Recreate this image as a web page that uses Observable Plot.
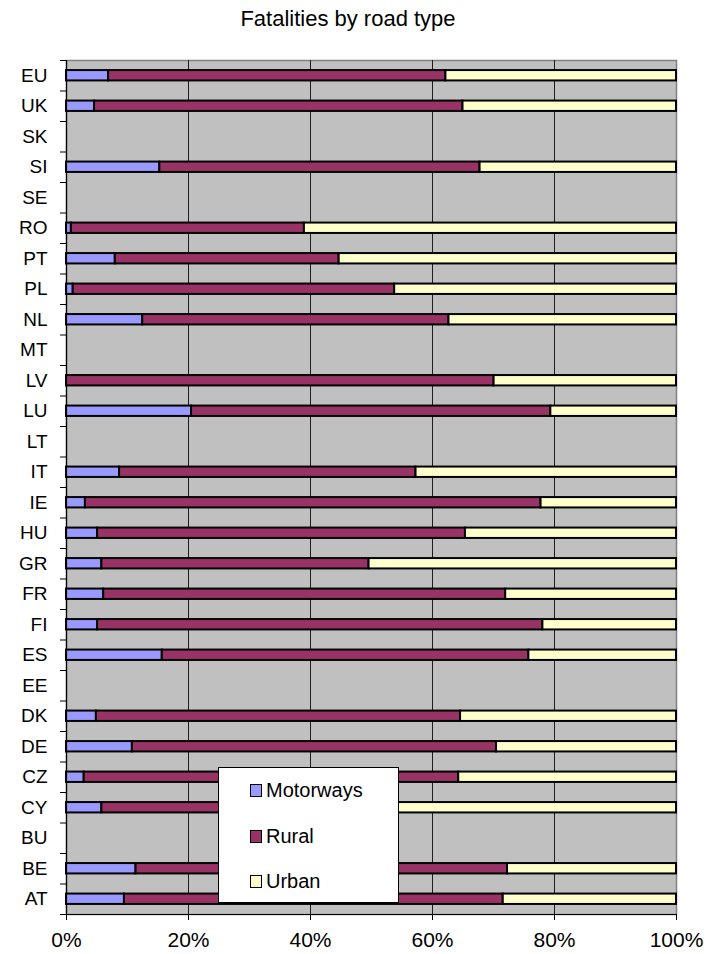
<!DOCTYPE html>
<html>
<head>
<meta charset="utf-8">
<script src="https://cdn.jsdelivr.net/npm/d3@7"></script>
<script src="https://cdn.jsdelivr.net/npm/@observablehq/plot@0.6"></script>
<style>
  html, body { margin: 0; padding: 0; background: #fff; }
  #wrap { position: relative; width: 710px; height: 954px; font-family: "Liberation Sans", Arial, sans-serif; }
  #title { height: 40px; font-size: 22px; text-align: center; line-height: 30px; padding-left: -20px; color: #000; }
  #title span { position: absolute; left: 0; width: 696px; top: 4px; text-align: center; }
  #legend { position: absolute; left: 218px; top: 767px; width: 179px; height: 134px; background: #fff; border: 1px solid #000; }
  .item { position: absolute; left: 31px; height: 24px; display: flex; align-items: center; font-size: 20px; color: #000; }
  .sw { width: 10px; height: 11px; border: 1.5px solid #000; margin-right: 4px; }
</style>
</head>
<body>
<div id="wrap">
  <div id="title"><span>Fatalities by road type</span></div>
  <div id="chart"></div>
  <div id="legend"></div>
</div>
<script>
// Categories listed bottom to top (as in the source chart)
const categories = ["AT","BE","BU","CY","CZ","DE","DK","EE","ES","FI","FR","GR","HU","IE","IT","LT","LU","LV","MT","NL","PL","PT","RO","SE","SI","SK","UK","EU"];
// Shares (%) per road type; null = no data
const motorways = [9.5, 11.4, null, 5.8, 2.9, 10.8, 4.9, null, 15.7, 5.1, 6.1, 5.8, 5.1, 3.1, 8.7, null, 20.5, 0, null, 12.5, 1.1, 8.0, 0.8, null, 15.3, null, 4.6, 6.9];
const rural     = [62.1, 60.9, null, 42.2, 61.4, 59.7, 59.7, null, 60.1, 73.0, 65.9, 43.8, 60.3, 74.7, 48.6, null, 58.9, 70.1, null, 50.2, 52.7, 36.7, 38.2, null, 52.5, null, 60.4, 55.3];
const urban     = [28.4, 27.7, null, 52.0, 35.7, 29.5, 35.4, null, 24.2, 21.9, 28.0, 50.4, 34.6, 22.2, 42.7, null, 20.6, 29.9, null, 37.3, 46.2, 55.3, 61.0, null, 32.2, null, 35.0, 37.8];
const seriesNames = ["Motorways", "Rural", "Urban"];
const seriesColors = ["#9999FF", "#993366", "#FFFFCC"];
const xTicks = [0, 20, 40, 60, 80, 100];

// Build long table with cumulative extents
const rows = [];
categories.forEach((c, i) => {
  const vals = [motorways[i], rural[i], urban[i]];
  if (vals.some(v => v == null)) return;
  let acc = 0;
  vals.forEach((v, k) => {
    rows.push({cat: c, i, series: seriesNames[k], x1: acc, x2: acc + v});
    acc += v;
  });
});

const n = categories.length;
const font = "Liberation Sans, Arial, sans-serif";

const chart = Plot.plot({
  width: 710,
  height: 914,
  marginTop: 20,
  marginBottom: 40,
  marginLeft: 66,
  marginRight: 34,
  style: {fontFamily: font, background: "transparent", overflow: "visible"},
  x: {domain: [0, 100], label: null},
  y: {domain: [-0.5, n - 0.5], label: null},
  color: {domain: seriesNames, range: seriesColors},
  marks: [
    Plot.frame({fill: "#C0C0C0", stroke: "#808080", strokeWidth: 1.5}),
    Plot.ruleX(xTicks.slice(1, -1), {stroke: "#000", strokeWidth: 1, strokeOpacity: 0.85}),
    Plot.rectX(rows, {
      x1: "x1", x2: "x2",
      y1: d => d.i - 0.17, y2: d => d.i + 0.17,
      fill: "series", stroke: "#000", strokeWidth: 2
    }),
    Plot.ruleX([0], {stroke: "#000", strokeWidth: 1.2}),
    Plot.ruleY([-0.5], {stroke: "#000", strokeWidth: 1.2}),
    Plot.axisX({ticks: xTicks, tickFormat: d => d + "%", tickSize: 6, tickPadding: 12, fontSize: 21, label: null, stroke: "#000", color: "#000"}),
    Plot.axisY({ticks: d3.range(-0.5, n, 1), tickFormat: () => "", tickSize: 6, label: null, stroke: "#000"}),
    Plot.axisY({ticks: d3.range(0, n), tickFormat: i => categories[i], tickSize: 0, tickPadding: 19, fontSize: 19, label: null, color: "#000"})
  ]
});
document.getElementById("chart").appendChild(chart);

// Legend (overlaid inside plot area)
const legend = document.getElementById("legend");
const rowTops = [10, 56, 101];
seriesNames.forEach((s, k) => {
  const it = document.createElement("div");
  it.className = "item";
  it.style.top = rowTops[k] + "px";
  const sw = document.createElement("div");
  sw.className = "sw";
  sw.style.background = seriesColors[k];
  const t = document.createElement("span");
  t.textContent = s;
  it.appendChild(sw);
  it.appendChild(t);
  legend.appendChild(it);
});
</script>
</body>
</html>
